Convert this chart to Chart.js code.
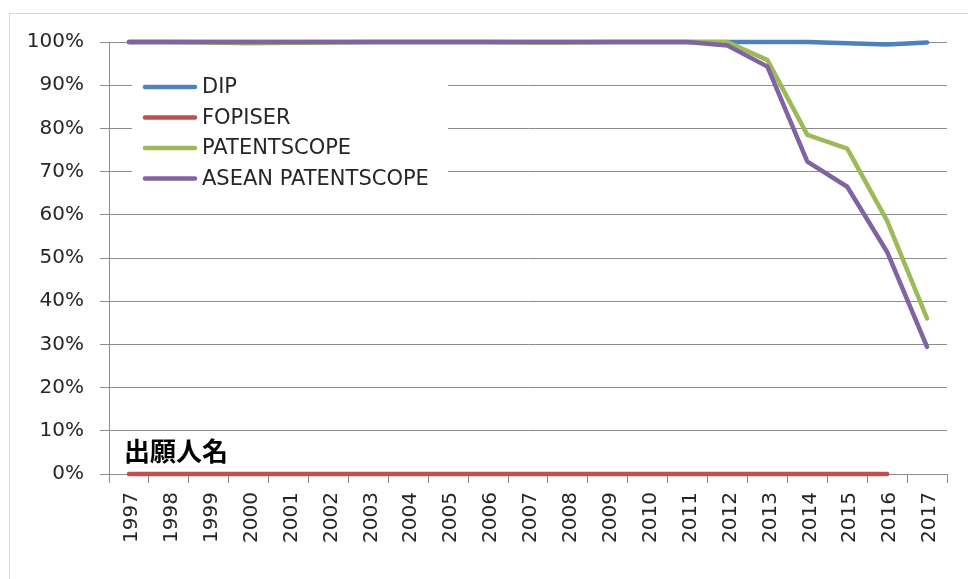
<!DOCTYPE html>
<html>
<head>
<meta charset="utf-8">
<script src="https://cdn.jsdelivr.net/npm/chart.js@4.4.1/dist/chart.umd.min.js"></script>
<style>
html,body{margin:0;padding:0;background:#fff;}
canvas{display:block;}
</style>
</head>
<body>
<canvas id="c" width="968" height="579"></canvas>
<script>
const years = ['1997','1998','1999','2000','2001','2002','2003','2004','2005','2006','2007','2008','2009','2010','2011','2012','2013','2014','2015','2016','2017'];
const dip         = [100,100,100,100,100,100,100,100,100,100,100,100,100,100,100,100,100,100,99.7,99.4,99.9];
const fopiser     = [0,0,0,0,0,0,0,0,0,0,0,0,0,0,0,0,0,0,0,0,null];
const patentscope = [100,100,99.9,99.7,99.8,99.9,100,100,100,100,99.9,99.9,100,100,100,100,95.8,78.5,75.3,58.6,36.0];
const asean       = [100,100,100,100,100,100,100,100,100,100,100,100,100,100,100,99.2,94.3,72.3,66.5,51.4,29.4];
const yTicks      = [0,10,20,30,40,50,60,70,80,90,100];
const seriesNames = ['DIP','FOPISER','PATENTSCOPE','ASEAN PATENTSCOPE'];
const seriesColors = ['#4F81BD','#C0504D','#9BBB59','#8064A2'];
const noteText = '出願人名';

const seriesData = [dip, fopiser, patentscope, asean];
const datasets = seriesData.map((d, i) => ({
  label: seriesNames[i],
  data: d,
  borderColor: seriesColors[i],
  backgroundColor: seriesColors[i],
  borderWidth: 4.5,
  pointRadius: 0,
  tension: 0,
  fill: false,
  clip: false,
  spanGaps: false,
  borderCapStyle: 'round',
  borderJoinStyle: 'round',
  order: seriesData.length - 1 - i
}));

const frame = {
  id: 'frame',
  beforeDraw(chart) {
    const ctx = chart.ctx;
    ctx.save();
    ctx.fillStyle = '#fff';
    ctx.fillRect(0, 0, chart.width, chart.height);
    ctx.strokeStyle = '#d9d9d9';
    ctx.lineWidth = 1;
    ctx.strokeRect(9.5, 13.5, 1200, 1200);
    ctx.restore();
  }
};

const legendBox = {
  id: 'legendBox',
  afterDatasetsDraw(chart) {
    const ctx = chart.ctx;
    ctx.save();
    ctx.fillStyle = '#fff';
    ctx.fillRect(132, 68, 316, 128);
    ctx.font = '21px "DejaVu Sans"';
    ctx.textBaseline = 'middle';
    ctx.textAlign = 'left';
    chart.data.datasets.forEach((ds, i) => {
      const y = 87 + i * 30.5;
      ctx.strokeStyle = ds.borderColor;
      ctx.lineWidth = 4.5;
      ctx.lineCap = 'round';
      ctx.beginPath();
      ctx.moveTo(145, y);
      ctx.lineTo(195, y);
      ctx.stroke();
      ctx.fillStyle = '#262626';
      ctx.fillText(ds.label, 202, y + 1);
    });
    ctx.font = 'bold 26px "Noto Sans CJK JP"';
    ctx.fillStyle = '#000';
    ctx.fillText(noteText, 124, 451);
    ctx.restore();
  }
};

new Chart(document.getElementById('c'), {
  type: 'line',
  data: { labels: years, datasets: datasets },
  plugins: [frame, legendBox],
  options: {
    responsive: false,
    animation: false,
    events: [],
    layout: { padding: { top: 42, right: 21, left: 0, bottom: 0 } },
    plugins: { legend: { display: false }, tooltip: { enabled: false } },
    scales: {
      x: {
        type: 'category',
        offset: true,
        afterFit(scale) { scale.height = 105; },
        grid: { offset: true, drawOnChartArea: false, drawTicks: true, tickLength: 9, color: '#8c8c8c', lineWidth: 1 },
        border: { color: '#8c8c8c', width: 1 },
        ticks: {
          autoSkip: false,
          maxRotation: 90,
          minRotation: 90,
          padding: 9,
          labelOffset: 3,
          color: '#262626',
          font: { family: 'DejaVu Sans', size: 20 }
        }
      },
      y: {
        min: 0,
        max: 100,
        afterFit(scale) { scale.width = 109; },
        afterBuildTicks(scale) { scale.ticks = yTicks.map(v => ({ value: v })); },
        grid: { drawTicks: true, tickLength: 9, color: '#8c8c8c', lineWidth: 1 },
        border: { color: '#8c8c8c', width: 1 },
        ticks: {
          padding: 16,
          color: '#262626',
          font: { family: 'DejaVu Sans', size: 20 },
          callback: v => v + '%'
        }
      }
    }
  }
});
</script>
</body>
</html>
